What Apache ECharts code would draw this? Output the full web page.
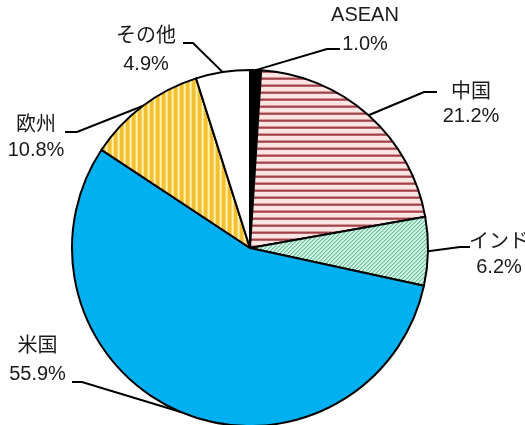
<!DOCTYPE html>
<html>
<head>
<meta charset="utf-8">
<script src="https://cdn.jsdelivr.net/npm/echarts@6/dist/echarts.min.js"></script>
<style>
html, body { margin: 0; padding: 0; background: #fff; }
#chart { width: 525px; height: 425px; }
</style>
</head>
<body>
<div id="chart"></div>
<script>
// 地域名と構成比(%)
const regions = ["ASEAN", "中国", "インド", "米国", "欧州", "その他"];
const shares = [1.0, 21.2, 6.2, 55.9, 10.8, 4.9];

// ラベルの置き場所（折れ点、線の終点、文字の中心、行の高さ）
const labelSpots = [
  { bend: [327, 49], end: [340, 49], text: [365, 30], lh: 29 },
  { bend: [424, 92], end: [437, 92], text: [471, 104.5], lh: 24 },
  { bend: [460, 247], end: [470, 247], text: [499, 255], lh: 25.5 },
  { bend: [82, 382], end: [72, 382], text: [37.5, 360.5], lh: 28 },
  { bend: [77, 132], end: [65, 132], text: [36, 137.5], lh: 25 },
  { bend: [193, 43], end: [183, 43], text: [146, 50.5], lh: 28 }
];

// 小さなキャンバスで塗りの模様を作る
function makePattern(w, h, paint) {
  const c = document.createElement("canvas");
  c.width = w;
  c.height = h;
  const ctx = c.getContext("2d");
  for (let y = 0; y < h; y++) {
    for (let x = 0; x < w; x++) {
      ctx.fillStyle = paint(x, y);
      ctx.fillRect(x, y, 1, 1);
    }
  }
  return { image: c, repeat: "repeat" };
}

// 中国：横じま
const chinaFill = makePattern(8, 7, (x, y) =>
  y === 0 ? "#d49a9a" : y === 1 ? "#a0404a" : y === 2 ? "#b86468" : "#ffe4e4");
// インド：斜線
const indiaFill = makePattern(4, 4, (x, y) => {
  const k = (x + y) % 4;
  return k === 0 ? "#6abf9c" : k === 1 ? "#a0dcc0" : "#d8f6e6";
});
// 欧州：縦じま
const europeFill = makePattern(6, 1, (x) =>
  ["#f4bf30", "#f4bf30", "#f4bf30", "#f8d468", "#fff4b0", "#fbe088"][x]);

const fills = ["#000000", chinaFill, indiaFill, "#00b0f0", europeFill, "#ffffff"];

const myChart = echarts.init(document.getElementById("chart"), null, { renderer: "canvas" });

myChart.setOption({
  animation: false,
  series: [
    {
      type: "pie",
      center: [250, 248],
      radius: 178,
      startAngle: 90,
      clockwise: true,
      avoidLabelOverlap: false,
      data: regions.map((name, i) => ({
        name: name,
        value: shares[i],
        itemStyle: { color: fills[i] },
        label: { lineHeight: labelSpots[i].lh }
      })),
      itemStyle: {
        borderColor: "#000",
        borderWidth: 2
      },
      label: {
        show: true,
        position: "outside",
        color: "#1a1a1a",
        fontSize: 20,
        fontFamily: "Arial, 'Liberation Sans', 'Noto Sans CJK JP', sans-serif",
        formatter: (p) => p.name + "\n" + p.value.toFixed(1) + "%"
      },
      labelLine: {
        show: true,
        lineStyle: { color: "#000", width: 2 }
      },
      labelLayout: (params) => {
        const s = labelSpots[params.dataIndex];
        const start = params.labelLinePoints ? params.labelLinePoints[0] : s.bend;
        return {
          x: s.text[0],
          y: s.text[1],
          align: "center",
          verticalAlign: "middle",
          labelLinePoints: [start, s.bend, s.end]
        };
      },
      emphasis: { disabled: true }
    }
  ]
});
</script>
</body>
</html>
